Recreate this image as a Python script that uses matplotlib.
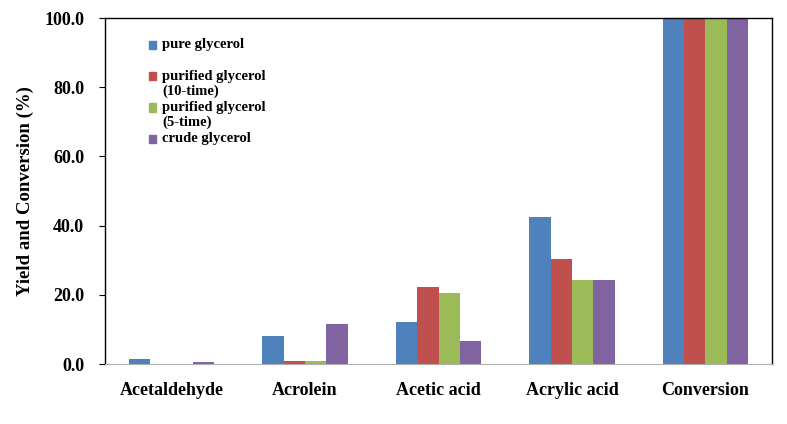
import numpy as np
import matplotlib
matplotlib.use("Agg")
import matplotlib.pyplot as plt
from matplotlib.patches import Rectangle

# data
categories = ["Acetaldehyde", "Acrolein", "Acetic acid", "Acrylic acid", "Conversion"]
series_names = ["pure glycerol", "purified glycerol\n(10-time)",
                "purified glycerol\n(5-time)", "crude glycerol"]
pure = [1.4, 8.1, 12.1, 42.5, 100.0]
purified_10 = [0.0, 1.0, 22.3, 30.3, 100.0]
purified_5 = [0.0, 0.8, 20.5, 24.3, 100.0]
crude = [0.5, 11.6, 6.6, 24.3, 100.0]
yticks = [0, 20, 40, 60, 80, 100]

colors = ["#4F81BD", "#C0504D", "#9BBB59", "#8064A2"]
series = [pure, purified_10, purified_5, crude]

plt.rcParams['font.family'] = ['Liberation Serif', 'DejaVu Serif']

fig = plt.figure(figsize=(7.87, 4.24), dpi=100)
ax = fig.add_axes([0.1334, 0.1415, 0.8476, 0.816])

x = np.arange(len(categories))
w = 0.16
for i, (vals, c) in enumerate(zip(series, colors)):
    ax.bar(x + (i - 1.5) * w, vals, width=w, color=c, linewidth=0)

ax.set_xlim(-0.5, len(categories) - 0.5)
ax.set_ylim(0, 100)
ax.set_yticks(yticks)
ax.set_yticklabels([f"{v:.1f}" for v in yticks], fontsize=13, fontweight="bold")
ax.set_xticks(x)
ax.set_xticklabels(categories, fontsize=13, fontweight="bold")
ax.tick_params(axis="x", length=0, pad=13)
ax.tick_params(axis="y", length=4, direction="out", pad=11)
ax.set_ylabel("Yield and Conversion (%)", fontsize=13.5, fontweight="bold", labelpad=7)

for s in ["left", "top", "right"]:
    ax.spines[s].set_color("black")
    ax.spines[s].set_linewidth(1.0)
ax.spines["bottom"].set_color("#B0B0B0")

# legend drawn by hand, entries evenly spaced like the Excel one
for i, (name, c) in enumerate(zip(series_names, colors)):
    yp = 45 + 31.3 * i
    ya = (364 - yp) / 346
    ax.add_patch(Rectangle((0.066, ya - 0.012), 0.011, 0.024, transform=ax.transAxes,
                           color=c, clip_on=False))
    ax.text(0.086, ya + 0.019, name, transform=ax.transAxes, fontsize=10.5,
            fontweight="bold", va="top", ha="left", linespacing=1.15)

fig.savefig("out.png", dpi=100)
